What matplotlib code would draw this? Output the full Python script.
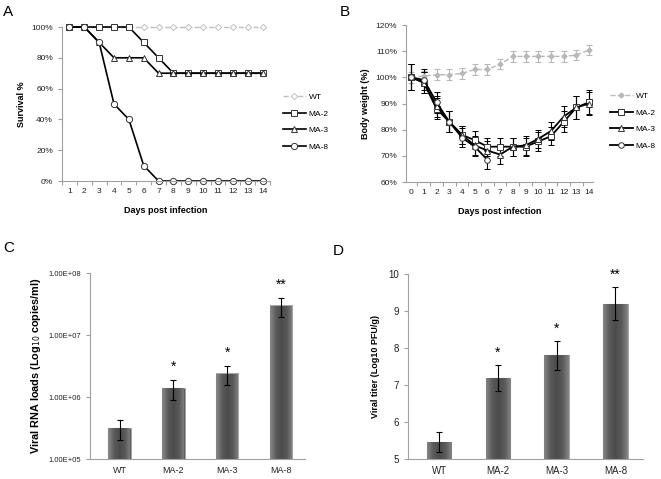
import numpy as np
import matplotlib
matplotlib.use('Agg')
import matplotlib.pyplot as plt
from matplotlib.ticker import FixedLocator, FuncFormatter
from matplotlib.colors import LinearSegmentedColormap

plt.rcParams['font.family'] = ['Liberation Sans', 'DejaVu Sans']
plt.rcParams['font.size'] = 6

# ---- Panel A: survival
days_a = list(range(1, 15))
surv_wt = [100] * 14
surv_ma2 = [100, 100, 100, 100, 100, 90, 80, 70, 70, 70, 70, 70, 70, 70]
surv_ma3 = [100, 100, 90, 80, 80, 80, 70, 70, 70, 70, 70, 70, 70, 70]
surv_ma8 = [100, 100, 90, 50, 40, 10, 0, 0, 0, 0, 0, 0, 0, 0]

# ---- Panel B: body weight
days_b = list(range(0, 15))
bw_wt = [100, 100.5, 101, 101, 101.5, 103, 103, 105, 108, 108, 108, 108, 108, 108.5, 110.5]
bw_wt_err = [2, 2, 2, 2, 2, 2, 2, 2, 2, 2, 2, 2, 2, 1.8, 2]
bw_ma2 = [100, 98, 88, 83, 78, 76, 73.5, 73.5, 73.5, 73.5, 75.5, 77.5, 83, 88.5, 90.5]
bw_ma2_err = [5, 4, 4, 4, 3.5, 3.5, 3.5, 3.5, 3.5, 3.5, 3.5, 3.5, 4, 4.5, 4.5]
bw_ma3 = [100, 98, 89, 83, 78, 74, 72, 70.5, 73.5, 74, 76.5, 79.5, 85, 88.5, 90]
bw_ma3_err = [5, 4, 4, 4, 3.5, 3.5, 3.5, 3.5, 3.5, 3.5, 3.5, 3.5, 4, 4.5, 4.5]
bw_ma8 = [100, 99, 90.5, 83, 77, 73.5, 68.5]
bw_ma8_err = [5, 4, 4, 4, 3.5, 3.5, 3.5]

# ---- Panel C / D: viral loads
groups = ['WT', 'MA-2', 'MA-3', 'MA-8']
rna = [3.2e5, 1.4e6, 2.4e6, 3.0e7]
rna_lo = [2.0e5, 0.9e6, 1.56e6, 1.95e7]
rna_hi = [4.2e5, 1.9e6, 3.2e6, 4.0e7]
rna_sig = ['', '*', '*', '**']
titer = [5.46, 7.18, 7.80, 9.20]
titer_err = [0.27, 0.35, 0.39, 0.45]
titer_sig = ['', '*', '*', '**']

W, H = 661, 479
fig = plt.figure(figsize=(W / 100, H / 100), dpi=100)


def rect(l, t, r, b):
    return [l / W, 1 - b / H, (r - l) / W, (b - t) / H]


def style_axes(ax):
    for s in ['top', 'right']:
        ax.spines[s].set_visible(False)
    for s in ['left', 'bottom']:
        ax.spines[s].set_color('#a0a0a0')
        ax.spines[s].set_linewidth(0.8)
    ax.tick_params(axis='both', colors='#a0a0a0', labelcolor='#222222', width=0.8, length=3, labelsize=6)


bar_cmap = LinearSegmentedColormap.from_list('bar', ['#858585', '#5a5a5a', '#4c4c4c', '#5a5a5a', '#858585'])


def shade_bars(ax, bars):
    # horizontal gradient inside each bar, clipped to the bar
    grad = np.linspace(0, 1, 64).reshape(1, -1)
    for b in bars:
        x0, y0 = b.get_x(), b.get_y()
        im = ax.imshow(grad, cmap=bar_cmap, aspect='auto', interpolation='bilinear',
                       extent=[x0, x0 + b.get_width(), y0, y0 + b.get_height()],
                       zorder=b.get_zorder() + 0.1)
        im.set_clip_path(b)


def leg_kw(x, y):
    return dict(loc='center left', bbox_to_anchor=(x / W, 1 - y / H), bbox_transform=fig.transFigure,
                frameon=False, fontsize=6, handlelength=2.7, labelspacing=1.05, handletextpad=0.4,
                borderaxespad=0, borderpad=0)


grey = '#c0c0c0'
mk = dict(markerfacecolor='white', markeredgecolor='#333333', markeredgewidth=0.7, clip_on=False)

# Panel A
axA = fig.add_axes(rect(62, 27, 270, 181))
axA.plot(days_a, surv_wt, '--', color=grey, lw=1.0, marker='D', markersize=3.2,
         markerfacecolor='white', markeredgecolor=grey, markeredgewidth=0.7, clip_on=False, label='WT')
axA.plot(days_a, surv_ma2, '-', color='black', lw=1.2, marker='s', markersize=4.5, label='MA-2', **mk)
axA.plot(days_a, surv_ma3, '-', color='black', lw=1.2, marker='^', markersize=4.5, label='MA-3', **mk)
axA.plot(days_a, surv_ma8, '-', color='black', lw=1.2, marker='o', markersize=4.5, label='MA-8', **mk)
axA.set_xlim(0.5, 14.5)
axA.set_ylim(0, 100)
axA.set_yticks(range(0, 101, 20))
axA.yaxis.set_major_formatter(FuncFormatter(lambda v, p: f'{int(v)}%'))
axA.set_xticks(days_a)
axA.xaxis.set_minor_locator(FixedLocator(np.arange(0.5, 15, 1)))
style_axes(axA)
axA.tick_params(axis='x', which='major', length=0, pad=5)
axA.tick_params(axis='x', which='minor', length=3, color='#a0a0a0', width=0.8)
axA.set_ylabel('Survival %', fontsize=6.5, fontweight='bold', labelpad=4)
axA.set_xlabel('Days post infection', fontsize=6.5, fontweight='bold', labelpad=8)
axA.legend(**leg_kw(283, 122))

# Panel B
axB = fig.add_axes(rect(406, 25, 593, 182))
eb = dict(capsize=2, elinewidth=0.8, capthick=0.8, clip_on=False)
c_wt = axB.errorbar(days_b, bw_wt, yerr=bw_wt_err, fmt='--', color='#b8b8b8', ecolor='#b8b8b8', lw=1.0,
                    marker='D', markersize=2.5, label='WT', **eb)
c_m2 = axB.errorbar(days_b, bw_ma2, yerr=bw_ma2_err, fmt='-', color='black', ecolor='black', lw=1.3,
                    marker='s', markersize=4, markerfacecolor='white', markeredgecolor='#333333',
                    markeredgewidth=0.7, label='MA-2', **eb)
c_m3 = axB.errorbar(days_b, bw_ma3, yerr=bw_ma3_err, fmt='-', color='black', ecolor='black', lw=1.3,
                    marker='^', markersize=4, markerfacecolor='white', markeredgecolor='#333333',
                    markeredgewidth=0.7, label='MA-3', **eb)
c_m8 = axB.errorbar(days_b[:len(bw_ma8)], bw_ma8, yerr=bw_ma8_err, fmt='-', color='black', ecolor='black', lw=1.3,
                    marker='o', markersize=4, markerfacecolor='white', markeredgecolor='#333333',
                    markeredgewidth=0.7, label='MA-8', **eb)
axB.set_xlim(-0.4, 14.3)
axB.set_ylim(60, 120)
axB.set_yticks(range(60, 121, 10))
axB.yaxis.set_major_formatter(FuncFormatter(lambda v, p: f'{int(v)}%'))
axB.set_xticks(days_b)
axB.xaxis.set_minor_locator(FixedLocator(np.arange(-0.5, 15, 1)))
style_axes(axB)
axB.tick_params(axis='x', which='major', length=0, pad=5)
axB.tick_params(axis='x', which='minor', length=3, color='#a0a0a0', width=0.8)
axB.set_ylabel('Body weight (%)', fontsize=6.5, fontweight='bold', labelpad=4)
axB.set_xlabel('Days post infection', fontsize=6.5, fontweight='bold', labelpad=8)
axB.legend(handles=[c[0] for c in (c_wt, c_m2, c_m3, c_m8)],
           labels=['WT', 'MA-2', 'MA-3', 'MA-8'], **leg_kw(610, 121))

bar_face = '#5a5a5a'
bar_edge = '#a8a8a8'

# Panel C
axC = fig.add_axes(rect(90, 273, 305, 459))
xc = np.arange(len(groups))
yerr_c = [np.array(rna) - np.array(rna_lo), np.array(rna_hi) - np.array(rna)]
axC.set_yscale('log')
bars_c = axC.bar(xc, np.array(rna) - 1e5, bottom=1e5, width=0.42, color=bar_face, edgecolor=bar_edge, linewidth=0.8)
axC.set_xlim(-0.55, 3.45)
axC.set_ylim(1e5, 1e8)
shade_bars(axC, bars_c)
axC.set_xlim(-0.55, 3.45)
axC.set_ylim(1e5, 1e8)
axC.errorbar(xc, rna, yerr=yerr_c, fmt='none', ecolor='black', elinewidth=0.8, capsize=2, capthick=0.8, zorder=5)
axC.set_yticks([1e5, 1e6, 1e7, 1e8])
axC.yaxis.set_major_formatter(FuncFormatter(lambda v, p: f'{v:.2E}'))
axC.yaxis.set_minor_locator(FixedLocator([]))
axC.set_xticks(xc)
axC.set_xticklabels(groups)
style_axes(axC)
axC.tick_params(axis='y', labelsize=5.5)
axC.tick_params(axis='x', length=0, pad=5, labelsize=6.5)
for i, s in enumerate(rna_sig):
    if s:
        axC.annotate(s, (xc[i], rna_hi[i]), xytext=(0, 4), textcoords='offset points',
                     ha='center', va='bottom', fontsize=10)
axC.set_ylabel('Viral RNA loads (Log$_{10}$ copies/ml)', fontsize=7.8, fontweight='bold', labelpad=4)

# Panel D
axD = fig.add_axes(rect(408, 274, 643, 459))
xd = np.arange(len(groups))
bars_d = axD.bar(xd, np.array(titer) - 5, bottom=5, width=0.42, color=bar_face, edgecolor=bar_edge, linewidth=0.8)
axD.set_ylim(5, 10)
axD.set_xlim(-0.53, 3.47)
shade_bars(axD, bars_d)
axD.set_ylim(5, 10)
axD.set_xlim(-0.53, 3.47)
axD.errorbar(xd, titer, yerr=titer_err, fmt='none', ecolor='black', elinewidth=0.8, capsize=2, capthick=0.8, zorder=5)
axD.set_yticks(range(5, 11))
axD.set_xticks(xd)
axD.set_xticklabels(groups)
style_axes(axD)
axD.tick_params(axis='y', labelsize=7)
axD.tick_params(axis='x', length=0, pad=5, labelsize=7)
for i, s in enumerate(titer_sig):
    if s:
        axD.annotate(s, (xd[i], titer[i] + titer_err[i]), xytext=(0, 4), textcoords='offset points',
                     ha='center', va='bottom', fontsize=10)
axD.set_ylabel('Viral titer (Log10 PFU/g)', fontsize=6.5, fontweight='bold', labelpad=6)

# panel letters
for lab, x, y in [('A', 3, 12), ('B', 340, 12), ('C', 3, 248), ('D', 333, 251)]:
    fig.text(x / W, 1 - y / H, lab, fontsize=11, ha='left', va='center')

fig.savefig('out.png', dpi=100)
